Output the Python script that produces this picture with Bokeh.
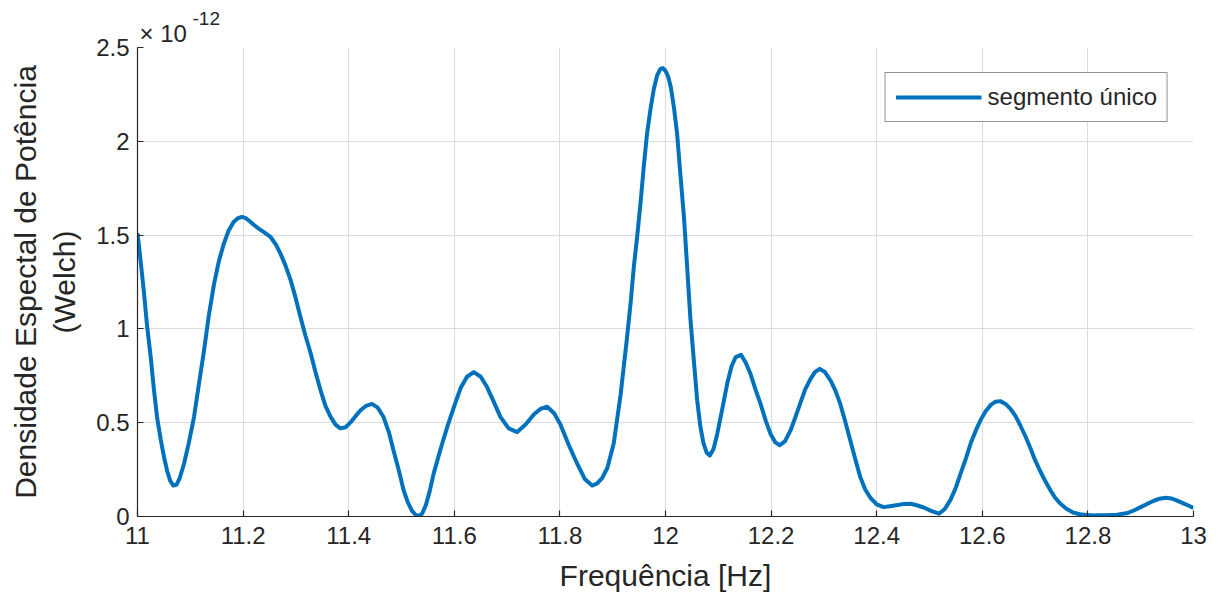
from bokeh.plotting import figure
from bokeh.models import Range1d, FixedTicker, Legend, LegendItem, ColumnDataSource, Title
from bokeh.embed import file_html
from bokeh.resources import INLINE

# Frequency [Hz]
freq = [11.000, 11.006, 11.012, 11.018, 11.025, 11.031, 11.037, 11.044, 11.050, 11.056,
        11.062, 11.068, 11.074, 11.080, 11.088, 11.097, 11.107, 11.116, 11.126, 11.135,
        11.145, 11.154, 11.163, 11.172, 11.182, 11.190, 11.198, 11.205, 11.212, 11.220,
        11.227, 11.240, 11.252, 11.262, 11.271, 11.280, 11.290, 11.300, 11.309, 11.318,
        11.328, 11.337, 11.347, 11.356, 11.366, 11.375, 11.384, 11.394, 11.403, 11.413,
        11.422, 11.433, 11.444, 11.455, 11.466, 11.476, 11.485, 11.495, 11.504, 11.512,
        11.520, 11.527, 11.533, 11.539, 11.546, 11.553, 11.561, 11.574, 11.587, 11.600,
        11.612, 11.624, 11.637, 11.650, 11.662, 11.675, 11.6875, 11.703, 11.719, 11.735,
        11.751, 11.764, 11.776, 11.789, 11.801, 11.817, 11.833, 11.847, 11.861, 11.870,
        11.880, 11.890, 11.902, 11.915, 11.927, 11.934, 11.940, 11.947, 11.953, 11.959,
        11.965, 11.972, 11.978, 11.984, 11.990, 11.995, 12.000, 12.005, 12.010, 12.016,
        12.022, 12.028, 12.035, 12.041, 12.047, 12.054, 12.060, 12.066, 12.072, 12.078,
        12.084, 12.091, 12.098, 12.108, 12.117, 12.125, 12.133, 12.143, 12.152, 12.161,
        12.170, 12.180, 12.190, 12.199, 12.208, 12.2165, 12.226, 12.237, 12.246, 12.256,
        12.265, 12.275, 12.283, 12.292, 12.302, 12.3125, 12.322, 12.331, 12.340, 12.350,
        12.360, 12.369, 12.378, 12.388, 12.400, 12.413, 12.425, 12.437, 12.450, 12.464,
        12.476, 12.489, 12.503, 12.518, 12.529, 12.540, 12.550, 12.559, 12.569, 12.578,
        12.588, 12.597, 12.606, 12.616, 12.625, 12.634, 12.644, 12.653, 12.663, 12.672,
        12.682, 12.691, 12.700, 12.710, 12.720, 12.729, 12.738, 12.748, 12.760, 12.773,
        12.785, 12.798, 12.815, 12.835, 12.855, 12.873, 12.887, 12.900, 12.912, 12.925,
        12.936, 12.947, 12.958, 12.969, 12.985, 13.000]

# Power spectral density (Welch), in units of 1e-12
psd_e12 = [1.51, 1.36, 1.20, 1.02, 0.85, 0.68, 0.53, 0.41, 0.32, 0.245,
           0.19, 0.165, 0.17, 0.205, 0.28, 0.39, 0.53, 0.70, 0.885, 1.07,
           1.24, 1.36, 1.45, 1.52, 1.57, 1.59, 1.597, 1.59, 1.575, 1.555,
           1.54, 1.515, 1.49, 1.45, 1.40, 1.34, 1.26, 1.16, 1.06, 0.965,
           0.87, 0.77, 0.67, 0.59, 0.53, 0.49, 0.47, 0.475, 0.50, 0.535,
           0.565, 0.59, 0.60, 0.58, 0.53, 0.45, 0.35, 0.245, 0.14, 0.075,
           0.03, 0.008, 0.003, 0.015, 0.06, 0.13, 0.23, 0.36, 0.48, 0.59,
           0.685, 0.745, 0.77, 0.745, 0.69, 0.61, 0.53, 0.47, 0.45, 0.49,
           0.545, 0.575, 0.585, 0.55, 0.49, 0.38, 0.28, 0.20, 0.165, 0.175,
           0.205, 0.26, 0.39, 0.65, 0.95, 1.14, 1.33, 1.51, 1.68, 1.87,
           2.04, 2.18, 2.28, 2.35, 2.385, 2.39, 2.375, 2.345, 2.29, 2.18,
           2.04, 1.83, 1.595, 1.33, 1.06, 0.82, 0.62, 0.48, 0.39, 0.34,
           0.325, 0.36, 0.44, 0.58, 0.71, 0.80, 0.85, 0.862, 0.82, 0.76,
           0.68, 0.60, 0.51, 0.44, 0.395, 0.38, 0.40, 0.46, 0.53, 0.61,
           0.68, 0.735, 0.77, 0.787, 0.77, 0.725, 0.67, 0.60, 0.51, 0.405,
           0.30, 0.21, 0.145, 0.10, 0.065, 0.05, 0.055, 0.06, 0.066, 0.068,
           0.06, 0.048, 0.03, 0.015, 0.04, 0.09, 0.155, 0.23, 0.31, 0.39,
           0.46, 0.515, 0.56, 0.595, 0.612, 0.615, 0.60, 0.575, 0.535, 0.485,
           0.425, 0.365, 0.30, 0.24, 0.185, 0.14, 0.10, 0.068, 0.04, 0.02,
           0.012, 0.008, 0.006, 0.007, 0.01, 0.017, 0.032, 0.05, 0.067, 0.084,
           0.095, 0.10, 0.096, 0.085, 0.065, 0.045]

x_ticks = [11.0, 11.2, 11.4, 11.6, 11.8, 12.0, 12.2, 12.4, 12.6, 12.8, 13.0]
x_tick_labels = ["11", "11.2", "11.4", "11.6", "11.8", "12", "12.2", "12.4", "12.6", "12.8", "13"]
y_ticks = [0.0, 0.5, 1.0, 1.5, 2.0, 2.5]
y_tick_labels = ["0", "0.5", "1", "1.5", "2", "2.5"]
series_name = "segmento único"

FONT = "Liberation Sans"
TXT = "#262626"
BLUE = "#0072BD"

p = figure(width=1218, height=599, output_backend="svg", toolbar_location=None,
           x_range=Range1d(11, 13), y_range=Range1d(0, 2.5))
p.min_border_left = 137
p.min_border_right = 25
p.min_border_top = 47
p.min_border_bottom = 83
p.outline_line_color = None
p.background_fill_color = "white"
p.border_fill_color = "white"

src = ColumnDataSource(dict(x=freq, y=psd_e12))
r = p.line("x", "y", source=src, line_color=BLUE, line_width=4, line_join="round")

for ax in (p.xaxis[0], p.yaxis[0]):
    ax.axis_line_color = TXT
    ax.axis_line_width = 1.2
    ax.major_tick_line_color = TXT
    ax.major_tick_line_width = 1.2
    ax.major_tick_in = 6
    ax.major_tick_out = 0
    ax.minor_tick_line_color = None
    ax.major_label_text_font = FONT
    ax.major_label_text_font_size = "24px"
    ax.major_label_text_color = TXT
    ax.axis_label_text_font = FONT
    ax.axis_label_text_font_size = "30px"
    ax.axis_label_text_font_style = "normal"
    ax.axis_label_text_color = TXT

p.xaxis.ticker = FixedTicker(ticks=x_ticks)
p.xaxis.major_label_overrides = {t: l for t, l in zip(x_ticks, x_tick_labels)}
p.yaxis.ticker = FixedTicker(ticks=y_ticks)
p.yaxis.major_label_overrides = {t: l for t, l in zip(y_ticks, y_tick_labels)}
p.xaxis.major_label_standoff = 10
p.yaxis.major_label_standoff = 8
p.xaxis.axis_label = "Frequência [Hz]"
p.xaxis.axis_label_standoff = 12
p.yaxis.axis_label = "Densidade Espectal de Potência\n(Welch)"
p.yaxis.axis_label_standoff = 12

p.xgrid.ticker = FixedTicker(ticks=x_ticks)
p.ygrid.ticker = FixedTicker(ticks=y_ticks)
for g in (p.xgrid[0], p.ygrid[0]):
    g.grid_line_color = "#dcdcdc"
    g.grid_line_width = 1

# exponent marker above the y axis: "×10" with superscript "-12"
p.add_layout(Title(text="× 10", align="left", offset=2, standoff=2,
                   text_font=FONT, text_font_size="24px", text_color=TXT,
                   text_font_style="normal"), "above")
p.add_layout(Title(text="-12", align="left", offset=55, standoff=-17,
                   text_font=FONT, text_font_size="19px", text_color=TXT,
                   text_font_style="normal"), "above")

legend = Legend(items=[LegendItem(label=series_name, renderers=[r])],
                location="top_right")
legend.margin = 25
legend.padding = 10
legend.spacing = 0
legend.glyph_width = 86
legend.glyph_height = 26
legend.label_standoff = 6
legend.label_text_font = FONT
legend.label_text_font_size = "24px"
legend.label_text_color = TXT
legend.border_line_color = TXT
legend.border_line_width = 1.2
legend.background_fill_color = "white"
legend.background_fill_alpha = 1.0
p.add_layout(legend, "center")

open("out.html", "w").write(file_html(p, INLINE))
